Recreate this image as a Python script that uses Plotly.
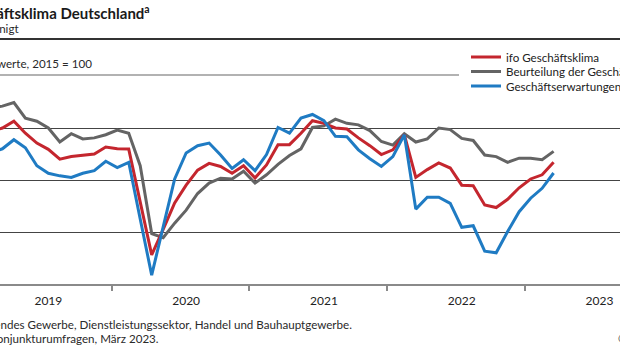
import plotly.graph_objects as go

# ---------------- data (monthly, Jan 2019 .. Mar 2023) ----------------
months = [f"{y}-{m:02d}" for y in range(2019, 2024) for m in range(1, 13)][:51]

klima = [99.6, 99.3, 100.0, 101.3, 99.0, 97.1, 95.9, 94.0, 94.5, 94.7, 95.0, 96.35,
         96.0, 95.95, 86.0, 75.6, 80.5, 85.6, 89.0, 91.9, 93.2, 92.6, 91.3, 92.75,
         90.4, 92.9, 96.8, 96.8, 99.0, 101.4, 100.9, 100.0, 99.8, 98.1, 96.6, 94.9,
         95.8, 98.7, 90.5, 92.0, 93.3, 92.3, 89.0, 88.9, 85.2, 84.7, 86.3, 88.5,
         90.2, 91.0, 93.4]

lage = [104.5, 103.8, 104.2, 104.9, 101.9, 101.3, 100.0, 97.3, 98.9, 97.9, 98.1, 98.7,
        99.6, 99.0, 92.75, 79.7, 78.9, 81.7, 84.2, 87.4, 89.4, 90.35, 90.2, 91.7,
        89.4, 91.0, 93.0, 94.7, 96.0, 100.1, 100.4, 101.7, 100.9, 100.6, 99.5, 97.4,
        96.7, 98.9, 97.3, 97.9, 100.0, 99.7, 98.0, 97.6, 94.8, 94.5, 93.4, 94.2,
        94.2, 93.9, 95.5]

erwartungen = [95.0, 95.3, 96.0, 97.75, 96.2, 92.75, 91.3, 90.8, 90.5, 91.3, 91.8, 93.6,
               92.4, 93.4, 82.5, 71.7, 81.0, 90.2, 95.2, 96.6, 97.1, 94.8, 92.2, 93.9,
               91.8, 94.9, 100.1, 99.0, 101.9, 102.6, 101.4, 98.4, 98.3, 95.8, 94.1, 92.6,
               94.5, 98.7, 84.4, 86.7, 86.7, 85.5, 80.9, 81.2, 76.3, 76.0, 80.1, 83.9,
               86.5, 88.4, 91.35]

years = ["2019", "2020", "2021", "2022", "2023"]
series_names = ["ifo Geschäftsklima", "Beurteilung der Geschäftslage", "Geschäftserwartungen"]

# ---------------- styling ----------------
VIEW_W = 620          # visible window width
EXTRA_R = 120         # figure continues beyond the window on the right (cut off)
W, H = VIEW_W + EXTRA_R, 350
MT, MB = 80, 66
PLOT_H = H - MT - MB
PX_PER_UNIT = 5.2
FONT = "Lato"
FS = 11.6

RED, GRAY, BLUE = "#c4262e", "#646464", "#1f7bc3"

def px_x(px):
    # paper coords are relative to the plot area, which spans x = 0 .. VIEW_W
    return px / VIEW_W

def px_y(py):
    return (H - MB - py) / PLOT_H

idx = list(range(len(months)))
fig = go.Figure()

# drawing order: gray, red, blue; each series has its own one-item legend
traces = [
    (series_names[1], lage, GRAY, "legend2"),
    (series_names[0], klima, RED, "legend"),
    (series_names[2], erwartungen, BLUE, "legend3"),
]
for name, vals, col, leg in traces:
    fig.add_trace(go.Scatter(
        x=idx, y=vals, customdata=months, mode="lines", name=name,
        legend=leg,
        line=dict(color=col, width=3),
        hovertemplate="%{customdata}: %{y:.1f}<extra>" + name + "</extra>",
    ))

year_label_pos = [12 * k + 6 for k in range(len(years))]
year_bounds = [12 * k - 0.5 for k in range(1, len(years))]

def legend_at(top_px):
    return dict(
        x=px_x(466), xanchor="left",
        y=px_y(top_px), yanchor="top",
        bgcolor="rgba(0,0,0,0)", borderwidth=0,
        font=dict(family=FONT, size=FS, color="#222"),
        itemwidth=30,
    )

fig.update_layout(
    width=W, height=H,
    margin=dict(l=0, r=EXTRA_R, t=MT, b=MB, pad=0, autoexpand=False),
    paper_bgcolor="white", plot_bgcolor="white",
    font=dict(family=FONT, size=FS, color="#2a2a2a"),
    showlegend=True,
    xaxis=dict(
        range=[1.79, 55.783],
        tickmode="array", tickvals=year_label_pos, ticktext=years,
        ticks="", showgrid=False, zeroline=False,
        showline=True, linecolor="#8a8a8a", linewidth=2,
        tickfont=dict(family=FONT, size=12, color="#222"),
        ticklabelstandoff=5,
        minor=dict(tickmode="array", tickvals=year_bounds, ticks="outside",
                   ticklen=5, tickcolor="#8a8a8a", tickwidth=1.5, showgrid=False),
        fixedrange=True,
    ),
    yaxis=dict(
        range=[70, 70 + PLOT_H / PX_PER_UNIT],
        tick0=70, dtick=10,
        showgrid=True, gridcolor="#444", gridwidth=1,
        showticklabels=False, ticks="", zeroline=False, showline=False,
        fixedrange=True,
    ),
    legend=legend_at(42.5),
    legend2=legend_at(57),
    legend3=legend_at(71.5),
)

# header rules
fig.add_shape(type="line", xref="paper", yref="paper",
              x0=-0.5, x1=1.5, y0=px_y(39), y1=px_y(39),
              line=dict(color="#333", width=2))
fig.add_shape(type="line", xref="paper", yref="paper",
              x0=-0.5, x1=px_x(459), y0=px_y(75), y1=px_y(75),
              line=dict(color="#999", width=1.5))

texts = [
    ("ifo Geschäftsklima Deutschland<sup>a</sup>", 152, 12, 15, "#1a1a1a", True),
    ("saisonbereinigt", 21, 28, FS, "#2a2a2a", False),
    ("Indexwerte, 2015 = 100", 94, 63, FS, "#2a2a2a", False),
    ("<sup>a</sup> Verarbeitendes Gewerbe, Dienstleistungssektor, Handel und Bauhauptgewerbe.", 354, 323, FS, "#2a2a2a", False),
    ("Quelle: ifo Konjunkturumfragen, März 2023.", 161, 338, FS, "#2a2a2a", False),
]
for txt, right, cy, size, col, bold in texts:
    fig.add_annotation(
        text=(f"<b>{txt}</b>" if bold else txt),
        xref="paper", yref="paper", x=px_x(right), y=px_y(cy),
        xanchor="right", yanchor="middle", showarrow=False,
        font=dict(family=FONT, size=size, color=col),
    )
fig.add_annotation(
    text="© ifo Institut", xref="paper", yref="paper",
    x=px_x(616), y=px_y(338), xanchor="left", yanchor="middle",
    showarrow=False, font=dict(family=FONT, size=FS, color="#2a2a2a"),
)

fig.write_html(
    "out.html",
    config=dict(displayModeBar=False),
    post_script="document.documentElement.style.overflow='hidden';"
                "document.body.style.overflow='hidden';",
)
